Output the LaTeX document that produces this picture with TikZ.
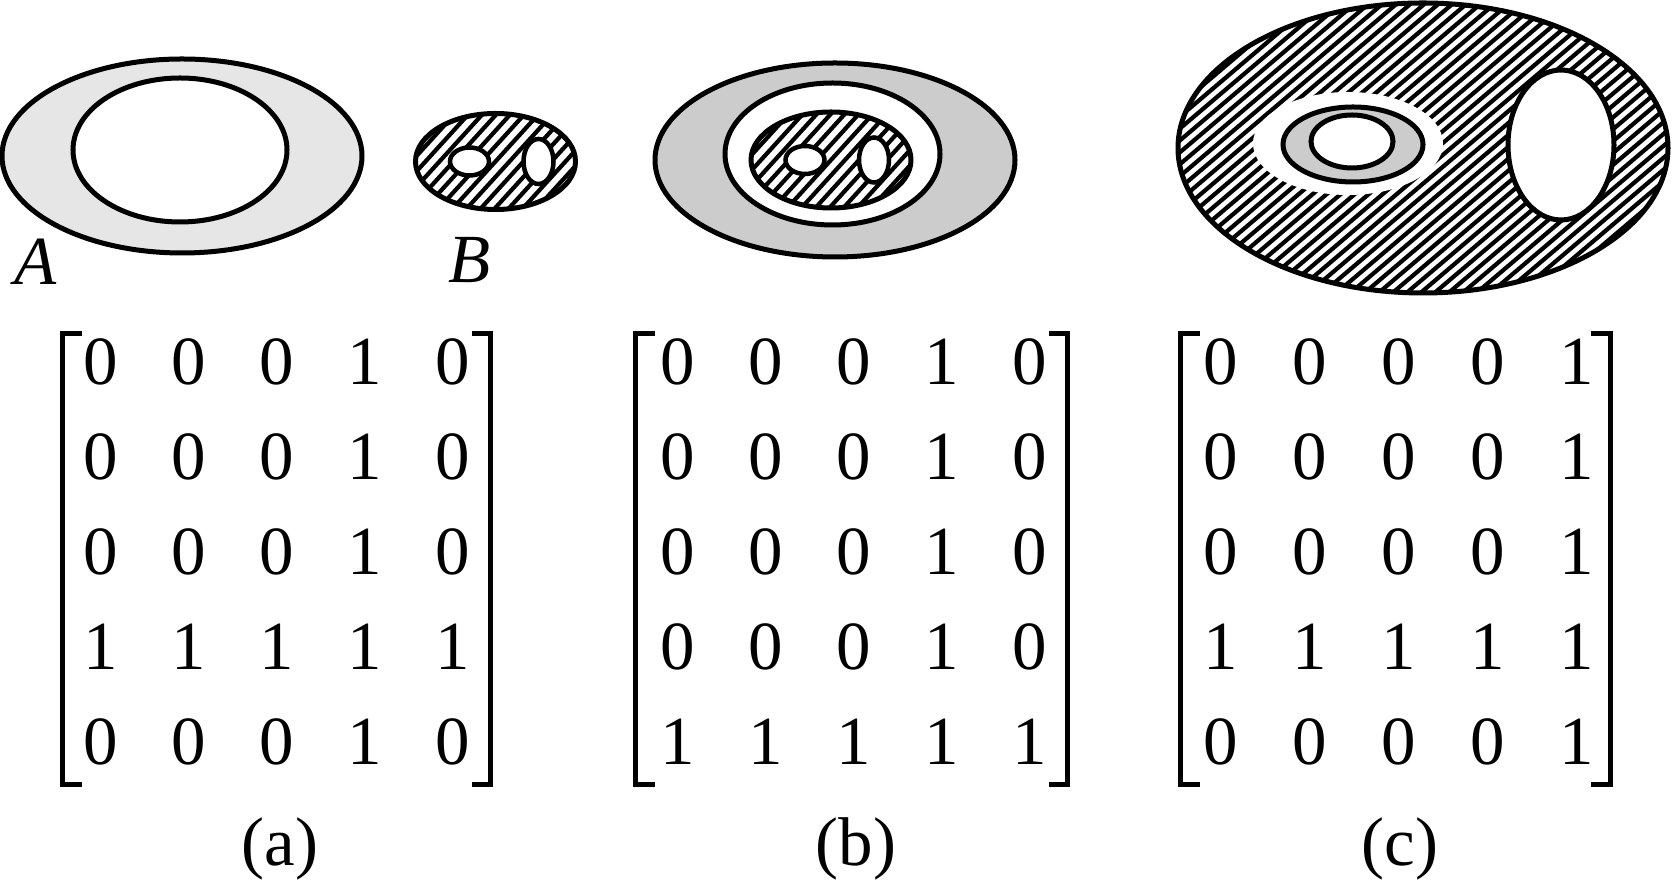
\documentclass[tikz,border=0pt]{standalone}
\usepackage{fontspec}
\setmainfont{Liberation Serif}
\usepackage{tikz}
\usetikzlibrary{positioning, calc}
\definecolor{ringlight}{RGB}{230,230,230}
\definecolor{ringdark}{RGB}{204,204,204}

% hatched ellipse: centre x, centre y, x radius, y radius, slope of the hatch
\newcommand{\hatchellipse}[5]{%
	\begin{scope}
		\clip (#1,#2) ellipse [x radius=#3, y radius=#4];
		\foreach \k in {-420,-406,...,420}
			\draw[hatch] ({#1+\k-320},{#2+320*#5}) -- ({#1+\k+320},{#2-320*#5});
	\end{scope}
	\draw[edge] (#1,#2) ellipse [x radius=#3, y radius=#4];}

% the set B with its two holes
\newcommand{\setB}[2]{%
	\hatchellipse{#1}{#2}{80}{48}{1.1}
	\draw[edge, fill=white, line width=0.045cm] ({#1-26},{#2}) ellipse [x radius=19.5, y radius=14];
	\draw[edge, fill=white, line width=0.045cm] ({#1+43},{#2}) ellipse [x radius=15, y radius=22.5];}

% square brackets round a matrix: left x, right x
\newcommand{\brackets}[2]{%
	\draw[bracket] ({#1+19.5},333.5) -- (#1,333.5) -- (#1,784.5) -- ({#1+19.5},784.5);
	\draw[bracket] ({#2-19},333.5) -- (#2,333.5) -- (#2,784.5) -- ({#2-19},784.5);}

\begin{document}
\begin{tikzpicture}[
			x=0.01cm, y=-0.01cm,
			edge/.style={draw=black, line width=0.05cm},
			hatch/.style={draw=black, line width=0.042cm},
			bracket/.style={draw=black, line width=0.05cm, miter limit=10},
			digit/.style={inner sep=0pt, font=\fontsize{19.6}{23}\selectfont},
			caption/.style={inner sep=0pt, font=\fontsize{19.6}{23}\selectfont},
			setname/.style={inner sep=0pt, font=\fontsize{19.6}{23}\selectfont\itshape},
			]
			\useasboundingbox (0,0) rectangle (1672,880);

			% (a): the set A
			\draw[edge, fill=ringlight] (182,156) ellipse [x radius=180, y radius=97];
			\draw[edge, fill=white] (180,150) ellipse [x radius=107, y radius=72];
			\node[setname] (nameA) at (36,262) {A};

			% the set B
			\setB{495.5}{161.5}
			\node[setname] (nameB) at (470,260) {B};

			% (b): B put inside A
			\draw[edge, fill=ringdark] (835,160) ellipse [x radius=180, y radius=97];
			\draw[edge, fill=white] (832.5,154) ellipse [x radius=107.5, y radius=71];
			\setB{831}{160}

			% (c)
			\hatchellipse{1423}{148}{245}{145}{0.85}
			\fill[white] (1348,143.5) ellipse [x radius=95, y radius=51.5];
			\draw[edge, fill=ringdark] (1353,144.5) ellipse [x radius=70, y radius=37.5];
			\draw[edge, fill=white] (1352,141.5) ellipse [x radius=41, y radius=26.5];
			\draw[edge, fill=white] (1561,145) ellipse [x radius=53, y radius=75];

			% matrices
			\foreach \row [count=\r] in {{0,0,0,1,0},{0,0,0,1,0},{0,0,0,1,0},{1,1,1,1,1},{0,0,0,1,0}}
				\foreach \d [count=\c] in \row
					\node[digit] (a-\r-\c) at ({101+(\c-1)*88},{362+(\r-1)*95}) {\d};
			\foreach \row [count=\r] in {{0,0,0,1,0},{0,0,0,1,0},{0,0,0,1,0},{0,0,0,1,0},{1,1,1,1,1}}
				\foreach \d [count=\c] in \row
					\node[digit] (b-\r-\c) at ({678+(\c-1)*88},{362+(\r-1)*95}) {\d};
			\foreach \row [count=\r] in {{0,0,0,0,1},{0,0,0,0,1},{0,0,0,0,1},{1,1,1,1,1},{0,0,0,0,1}}
				\foreach \d [count=\c] in \row
					\node[digit] (c-\r-\c) at ({1221+(\c-1)*89},{362+(\r-1)*95}) {\d};
			\brackets{62.5}{490.5}
			\brackets{635.5}{1067.5}
			\brackets{1180.5}{1610}

			% captions
			\node[caption] (capa) at (280,849) {(a)};
			\node[caption] (capb) at (856,849) {(b)};
			\node[caption] (capc) at (1400,849) {(c)};
		\end{tikzpicture}
\end{document}
